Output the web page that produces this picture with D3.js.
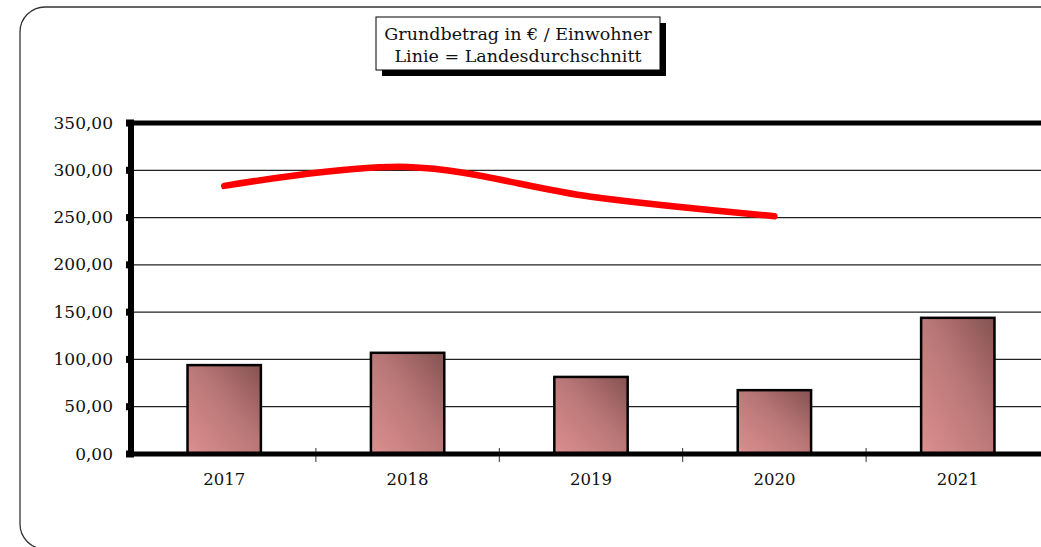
<!DOCTYPE html>
<html>
<head>
<meta charset="utf-8">
<script src="https://cdn.jsdelivr.net/npm/d3@7"></script>
<style>
  body { margin: 0; background: #fff; }
  text { font-family: "DejaVu Serif", "Liberation Serif", serif; fill: #111; }
</style>
</head>
<body>
<svg id="chart" width="1041" height="547"></svg>
<script>
// Werte
const years = ['2017', '2018', '2019', '2020', '2021'];
const grundbetrag = [94.0, 107.0, 81.5, 67.5, 144.0];
const landesschnitt = [283.5, 303.5, 272.0, 251.5]; // 2021 fehlt
const yTicks = [0, 50, 100, 150, 200, 250, 300, 350];
const titleLines = ['Grundbetrag in € / Einwohner', 'Linie = Landesdurchschnitt'];

const svg = d3.select('#chart');
const m = { left: 131, top: 123, bottom: 454 };
const bandW = 183.4;

const x = d3.scaleBand()
    .domain(years)
    .range([m.left + 1.5, m.left + 1.5 + bandW * years.length])
    .paddingInner(0.6)
    .paddingOuter(0.3);
const y = d3.scaleLinear().domain([0, 350]).range([m.bottom, m.top]);
const fmt = v => d3.format('.2f')(v).replace('.', ',');

// äußerer Rahmen, rechts/unten abgeschnitten
svg.append('rect')
    .attr('x', 20).attr('y', 7)
    .attr('width', 1100).attr('height', 542)
    .attr('rx', 25).attr('ry', 25)
    .attr('fill', 'none').attr('stroke', '#333').attr('stroke-width', 1.3);

// Verlauf für die Balken
const grad = svg.append('defs').append('linearGradient')
    .attr('id', 'barGrad')
    .attr('x1', '0%').attr('y1', '100%').attr('x2', '100%').attr('y2', '0%');
grad.append('stop').attr('offset', '0%').attr('stop-color', '#dc8f8f');
grad.append('stop').attr('offset', '55%').attr('stop-color', '#b97676');
grad.append('stop').attr('offset', '100%').attr('stop-color', '#855252');

const xEnd = m.left + bandW * years.length;

// Gitterlinien
svg.append('g')
    .selectAll('line')
    .data(yTicks.filter(t => t > 0 && t < 350))
    .join('line')
    .attr('x1', m.left).attr('x2', xEnd)
    .attr('y1', d => y(d)).attr('y2', d => y(d))
    .attr('stroke', '#222').attr('stroke-width', 1.2);

// obere Begrenzung
svg.append('line')
    .attr('x1', m.left).attr('x2', xEnd)
    .attr('y1', y(350)).attr('y2', y(350))
    .attr('stroke', '#000').attr('stroke-width', 5);

// Balken
svg.append('g')
    .selectAll('rect')
    .data(grundbetrag)
    .join('rect')
    .attr('x', (d, i) => x(years[i]))
    .attr('y', d => y(d))
    .attr('width', x.bandwidth())
    .attr('height', d => y(0) - y(d))
    .attr('fill', 'url(#barGrad)')
    .attr('stroke', '#000').attr('stroke-width', 2.5);

// Kategorie-Striche
svg.append('g')
    .selectAll('line')
    .data(d3.range(1, years.length))
    .join('line')
    .attr('x1', i => m.left + 1.5 + i * bandW).attr('x2', i => m.left + 1.5 + i * bandW)
    .attr('y1', m.bottom - 6).attr('y2', m.bottom + 8)
    .attr('stroke', '#333').attr('stroke-width', 1);

// x-Achse
svg.append('line')
    .attr('x1', m.left).attr('x2', xEnd)
    .attr('y1', m.bottom).attr('y2', m.bottom)
    .attr('stroke', '#000').attr('stroke-width', 5);

// y-Achse
svg.append('line')
    .attr('x1', m.left).attr('x2', m.left)
    .attr('y1', m.top - 2).attr('y2', m.bottom + 3)
    .attr('stroke', '#000').attr('stroke-width', 6);

svg.append('g')
    .selectAll('rect')
    .data(yTicks)
    .join('rect')
    .attr('x', m.left - 5).attr('y', d => y(d) - 3.5)
    .attr('width', 8).attr('height', 7)
    .attr('fill', '#000');

svg.append('g')
    .selectAll('text')
    .data(yTicks)
    .join('text')
    .attr('x', 113).attr('y', d => y(d) + 5.5)
    .attr('text-anchor', 'end')
    .attr('font-size', 17)
    .text(fmt);

// Jahreszahlen
svg.append('g')
    .selectAll('text')
    .data(years)
    .join('text')
    .attr('x', d => x(d) + x.bandwidth() / 2)
    .attr('y', 485)
    .attr('text-anchor', 'middle')
    .attr('font-size', 16.5)
    .text(d => d);

// Landesdurchschnitt als geglättete Linie
const line = d3.line()
    .x((d, i) => x(years[i]) + x.bandwidth() / 2)
    .y(d => y(d))
    .curve(d3.curveCatmullRom.alpha(0.5));

svg.append('path')
    .attr('d', line(landesschnitt))
    .attr('fill', 'none')
    .attr('stroke', '#ff0000').attr('stroke-width', 6.5)
    .attr('stroke-linecap', 'round');

// Titelbox mit Schatten
const tb = { x: 376, y: 17, w: 284, h: 53 };
svg.append('rect')
    .attr('x', tb.x + 6).attr('y', tb.y + 6)
    .attr('width', tb.w).attr('height', tb.h)
    .attr('fill', '#000');
svg.append('rect')
    .attr('x', tb.x).attr('y', tb.y)
    .attr('width', tb.w).attr('height', tb.h)
    .attr('fill', '#fff').attr('stroke', '#000').attr('stroke-width', 1);
svg.append('g')
    .selectAll('text')
    .data(titleLines)
    .join('text')
    .attr('x', tb.x + tb.w / 2)
    .attr('y', (d, i) => tb.y + 23 + i * 22)
    .attr('text-anchor', 'middle')
    .attr('font-size', 17.5)
    .text(d => d);
</script>
</body>
</html>
